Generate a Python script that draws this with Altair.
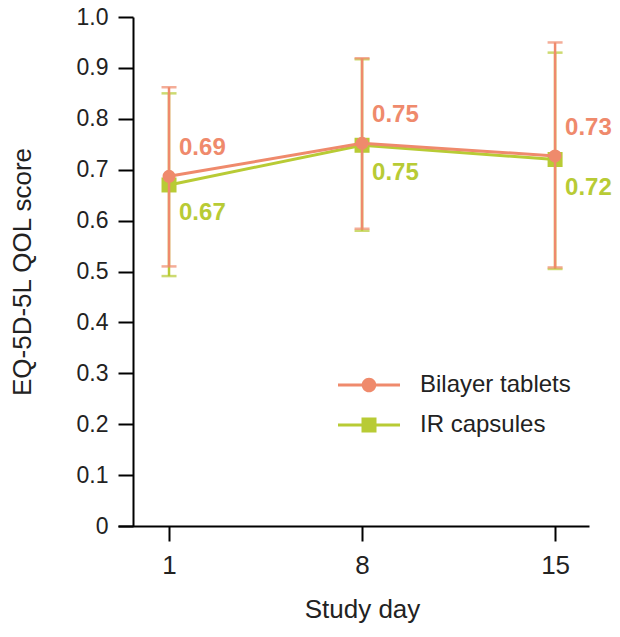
import altair as alt
import pandas as pd

# ---- data ----
days = [1, 8, 15]
series_names = ["Bilayer tablets", "IR capsules"]

bilayer_mean = [0.687, 0.752, 0.727]
bilayer_upper = [0.862, 0.919, 0.950]
bilayer_lower = [0.510, 0.584, 0.508]
bilayer_labels = ["0.69", "0.75", "0.73"]

ir_mean = [0.670, 0.748, 0.720]
ir_upper = [0.850, 0.917, 0.930]
ir_lower = [0.491, 0.580, 0.505]
ir_labels = ["0.67", "0.75", "0.72"]

y_ticks = [0, 0.1, 0.2, 0.3, 0.4, 0.5, 0.6, 0.7, 0.8, 0.9, 1.0]
x_ticks = [1, 8, 15]

colors = ["#EF8A6C", "#B8CB35"]
FONT = "Liberation Sans"
TEXT = "#222222"

rows = []
for name, m, u, l, lab in [
    (series_names[0], bilayer_mean, bilayer_upper, bilayer_lower, bilayer_labels),
    (series_names[1], ir_mean, ir_upper, ir_lower, ir_labels),
]:
    for d, mv, uv, lv, t in zip(days, m, u, l, lab):
        rows.append({"series": name, "day": d, "mean": mv, "upper": uv, "lower": lv, "label": t})
df = pd.DataFrame(rows)

color_scale = alt.Scale(domain=series_names, range=colors)

x_axis = alt.Axis(
    values=x_ticks, format="d", grid=False,
    domainColor="#000", domainWidth=2, tickColor="#000", tickWidth=2, tickSize=15,
    labelFont=FONT, labelFontSize=26, labelColor=TEXT, labelPadding=11,
    titleFont=FONT, titleFontSize=26, titleFontWeight="normal", titleColor=TEXT,
    titlePadding=18, titleX=244,
)
y_axis = alt.Axis(
    values=y_ticks, grid=False, offset=-15,
    labelExpr="datum.value == 0 ? '0' : format(datum.value, '.1f')",
    domainColor="#000", domainWidth=2, tickColor="#000", tickWidth=2, tickSize=15,
    labelFont=FONT, labelFontSize=23, labelColor=TEXT, labelPadding=10,
    titleFont=FONT, titleFontSize=26, titleFontWeight="normal", titleColor=TEXT,
    titlePadding=41,
)

X = alt.X("day:Q", scale=alt.Scale(domain=[-0.85, 16.23], nice=False, zero=False),
          axis=x_axis, title="Study day")
Y_SCALE = alt.Scale(domain=[0, 1], nice=False)


def series_layers(name, shape, size, dy):
    base = alt.Chart(df).transform_filter(alt.datum.series == name)
    col = alt.Color("series:N", scale=color_scale, legend=None)
    bars = base.mark_rule(strokeWidth=2.5).encode(
        x=X, y=alt.Y("lower:Q", scale=Y_SCALE, axis=y_axis, title="EQ-5D-5L QOL score"),
        y2="upper:Q", color=col)
    cap_hi = base.mark_tick(orient="horizontal", size=15, thickness=2.5).encode(
        x=X, y=alt.Y("upper:Q", scale=Y_SCALE), color=col)
    cap_lo = base.mark_tick(orient="horizontal", size=15, thickness=2.5).encode(
        x=X, y=alt.Y("lower:Q", scale=Y_SCALE), color=col)
    line = base.mark_line(strokeWidth=3).encode(
        x=X, y=alt.Y("mean:Q", scale=Y_SCALE), color=col)
    pts = base.mark_point(filled=True, shape=shape, size=size, opacity=1).encode(
        x=X, y=alt.Y("mean:Q", scale=Y_SCALE), color=col)
    txt = base.mark_text(align="left", baseline="middle", dx=10, dy=dy,
                         font=FONT, fontSize=24, fontWeight="bold").encode(
        x=X, y=alt.Y("mean:Q", scale=Y_SCALE), text="label:N", color=col)
    return [bars, cap_hi, cap_lo, line, pts, txt]


circle_path = ("M-1.55,-0.075H1.55V0.075H-1.55Z "
               "M0.365,0A0.365,0.365 0 1,1 -0.365,0A0.365,0.365 0 1,1 0.365,0Z")
square_path = ("M-1.55,-0.075H1.55V0.075H-1.55Z "
               "M-0.375,-0.375H0.375V0.375H-0.375Z")

legend_spec = alt.Legend(
    title=None, orient="none", legendX=231, legendY=348,
    labelFont=FONT, labelFontSize=24, labelColor=TEXT, labelOffset=31,
    symbolSize=1600, symbolStrokeWidth=0, symbolOpacity=1,
    rowPadding=8, padding=0,
)
# legend-only layer: tiny symbols hidden beneath the real markers
legend_layer = alt.Chart(df).mark_point(filled=True, size=1, opacity=1).encode(
    x=X, y=alt.Y("mean:Q", scale=Y_SCALE),
    color=alt.Color("series:N", scale=color_scale, legend=legend_spec),
    shape=alt.Shape("series:N", scale=alt.Scale(domain=series_names,
                                                range=[circle_path, square_path]),
                    legend=legend_spec),
)

layers = [legend_layer] + series_layers(series_names[1], "square", 225, 28) + \
    series_layers(series_names[0], "circle", 168, -28)

chart = alt.layer(*layers).properties(
    width=471, height=509,
    autosize=alt.AutoSizeParams(type="none"),
    padding={"left": 110, "top": 9, "right": 23, "bottom": 100},
).configure_view(stroke=None)

chart.save("out.html", embed_options={"renderer": "svg", "actions": False})
